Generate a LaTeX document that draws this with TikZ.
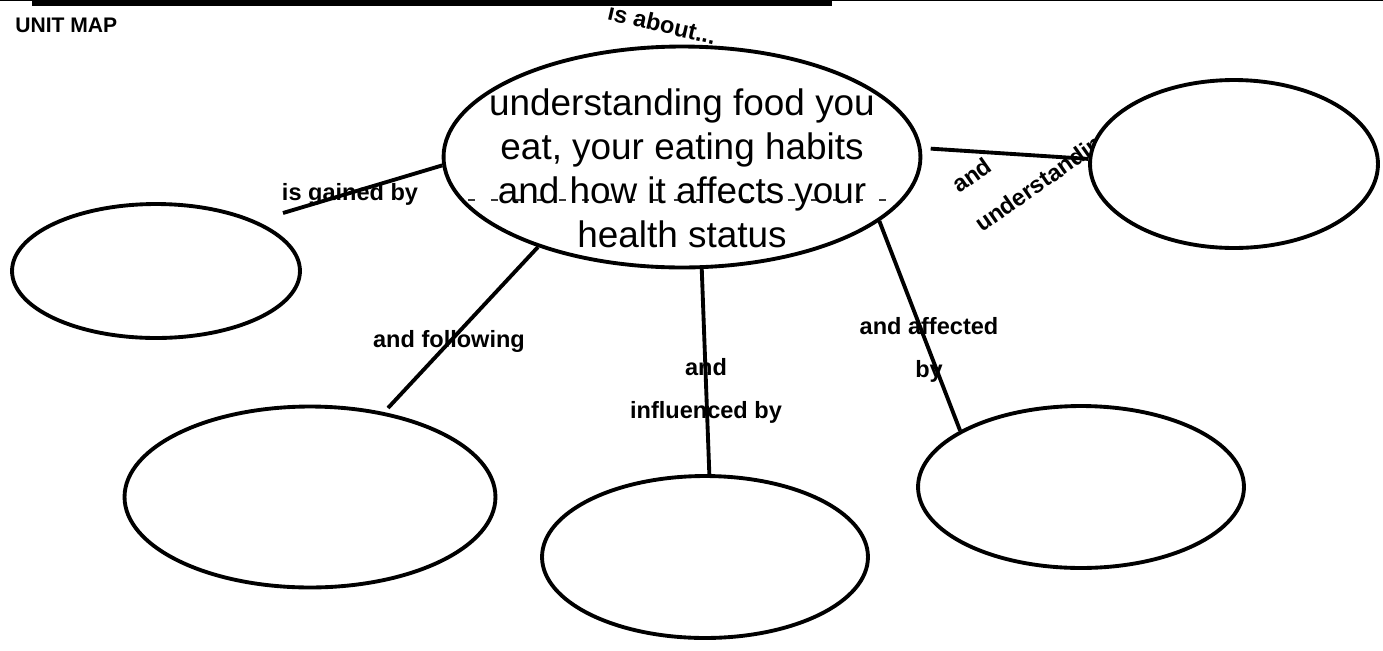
\documentclass[tikz,border=0pt]{standalone}
\usepackage{fontspec}
\setmainfont{Liberation Sans}
\usetikzlibrary{shapes.geometric,backgrounds}
\definecolor{inkblack}{RGB}{0,0,0}
\definecolor{dashgray}{RGB}{55,55,55}

\tikzset{
  bubble/.style={ellipse, draw=inkblack, line width=2.2pt, fill=white, inner sep=0pt},
  link/.style={draw=inkblack, line width=2.2pt},
  linklabel/.style={font=\fontsize{13.4}{24.5}\selectfont\bfseries, align=center, inner sep=0pt},
}

\begin{document}
\begin{tikzpicture}[x=0.02cm, y=-0.02cm]
  \useasboundingbox (0,0) rectangle (1383,650);
  % header bar
  \draw[inkblack, line width=0.6pt] (0,0.5) -- (1383,0.5);
  \fill[inkblack] (32,0) rectangle (832,6);
  \node[font=\fontsize{12}{14}\selectfont\bfseries, anchor=west, inner sep=0pt] (title) at (15,25) {UNIT MAP};

  % link labels
  \node[linklabel, rotate=-13] (aboutLbl) at (662,24) {is about...};
  \node[linklabel] (gainedLbl) at (350,194) {is gained by};
  \node[linklabel] (followLbl) at (449,341) {and following};
  \node[linklabel] (inflLbl) at (706,391) {and\\influenced by};
  \node[linklabel] (affectLbl) at (929,350) {and affected\\by};
  \node[linklabel, rotate=35, anchor=base west] (andLbl) at (959,194) {and};
  \node[linklabel, rotate=35, anchor=base west] (understandLbl) at (982,233) {understanding};

  % concept bubbles
  \node[bubble, fill=none, minimum width=9.54cm, minimum height=4.42cm] (main) at (682,157) {};
  \node[bubble, minimum width=5.76cm, minimum height=2.68cm] (gained) at (156,271) {};
  \node[bubble, minimum width=5.76cm, minimum height=3.36cm] (know) at (1234,164) {};
  \node[bubble, minimum width=7.42cm, minimum height=3.62cm] (follow) at (310,497) {};
  \node[bubble, minimum width=6.52cm, minimum height=3.24cm] (infl) at (705,557) {};
  \node[bubble, minimum width=6.52cm, minimum height=3.24cm] (affect) at (1081,487) {};

  % connectors
  \coordinate (gainedEnd) at (283,213);
  \coordinate (followEnd) at (388,408);
  \draw[link] (main.182) -- (gainedEnd);
  \draw[link] (main.212) -- (followEnd);
  \draw[link] (main.280) -- (infl.87);
  \draw[link] (main.342) -- (affect.155);
  \draw[link] ([xshift=0.18cm]main.2) -- (know.178);

  % guide line under the text
  \begin{scope}[on background layer]
    \draw[dashgray, line width=1pt, dash pattern=on 4pt off 9pt] (468,200) -- (893,200);
  \end{scope}
  \node[font=\fontsize{21}{25}\selectfont, align=center, inner sep=0pt] (mainText) at (682,168)
    {understanding food you\\eat, your eating habits\\and how it affects your\\health status};
\end{tikzpicture}
\end{document}
